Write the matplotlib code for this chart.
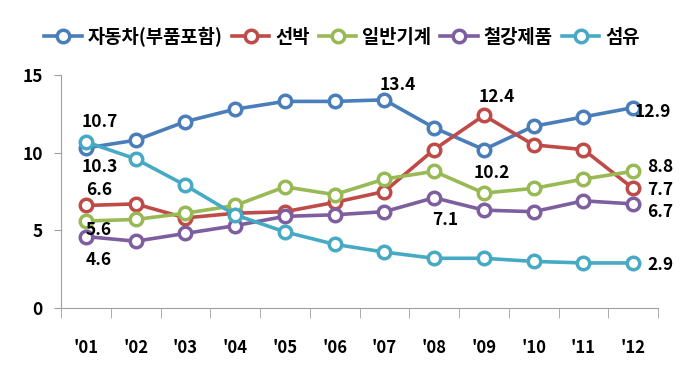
import matplotlib
matplotlib.use("Agg")
import matplotlib.pyplot as plt
import numpy as np

plt.rcParams['font.family'] = ['Noto Sans CJK KR', 'DejaVu Sans']
plt.rcParams['font.weight'] = 'bold'

# data
years = ["'01", "'02", "'03", "'04", "'05", "'06", "'07", "'08", "'09", "'10", "'11", "'12"]
names = ['자동차(부품포함)', '선박', '일반기계', '철강제품', '섬유']
car = [10.3, 10.8, 12.0, 12.8, 13.3, 13.3, 13.4, 11.6, 10.2, 11.7, 12.3, 12.9]
ship = [6.6, 6.7, 5.8, 6.1, 6.2, 6.8, 7.5, 10.2, 12.4, 10.5, 10.2, 7.7]
machine = [5.6, 5.7, 6.1, 6.6, 7.8, 7.3, 8.3, 8.8, 7.4, 7.7, 8.3, 8.8]
steel = [4.6, 4.3, 4.8, 5.3, 5.9, 6.0, 6.2, 7.1, 6.3, 6.2, 6.9, 6.7]
textile = [10.7, 9.6, 7.9, 6.0, 4.9, 4.1, 3.6, 3.2, 3.2, 3.0, 2.9, 2.9]
colors = ['#4A7EBB', '#BE4B48', '#98B954', '#7D5FA0', '#46AAC5']

# (series index, year index, x offset px, y offset px)
labels = [(4, 0, 14, 20), (0, 0, 14, -19), (1, 0, 13, 15), (2, 0, 13, -9), (3, 0, 13, -23),
          (0, 6, 13, 15), (1, 8, 13, 18), (0, 8, 8, -23), (3, 7, 11, -22),
          (0, 11, 20, -4), (2, 11, 27, 4), (1, 11, 27, -2), (3, 11, 27, -8), (4, 11, 27, -2)]

series = [car, ship, machine, steel, textile]
x = np.arange(len(years))

fig = plt.figure(figsize=(6.96, 3.81), dpi=100)
ax = fig.add_axes([61/696, 1-308/381, 597/696, 233/381])

for vals, name, c in zip(series, names, colors):
    ax.plot(x, vals, color=c, lw=2.6, marker='o', ms=9, mfc='white', mec=c, mew=2.5, label=name)

for s, i, dx, dy in labels:
    ax.annotate(f'{series[s][i]:.1f}', (x[i], series[s][i]), xytext=(dx, dy), textcoords='offset pixels',
                ha='center', va='center', fontsize=12.5, fontweight='bold', color='black')

ax.set_xlim(-0.5, len(years) - 0.5)
ax.set_ylim(0, 15)
ax.set_yticks([0, 5, 10, 15])
ax.set_xticks(x)
ax.set_xticklabels(years)
ax.set_xticks(np.arange(-0.5, len(years), 1), minor=True)
ax.tick_params(axis='x', which='major', length=0, pad=22, labelsize=12)
ax.tick_params(axis='x', which='minor', length=7, color='#A0A0A0', direction='out')
ax.tick_params(axis='y', length=5, color='#A0A0A0', labelsize=12.5, pad=8)
for t in ax.get_xticklabels() + ax.get_yticklabels():
    t.set_fontweight('bold')
for sp in ['top', 'right']:
    ax.spines[sp].set_visible(False)
ax.spines['left'].set_color('#A0A0A0')
ax.spines['bottom'].set_color('#A0A0A0')

fig.legend(loc='center', bbox_to_anchor=(342/696, 1-37/381), ncol=5, frameon=False,
           handlelength=2.0, handletextpad=0.3, columnspacing=0.5,
           prop={'size': 13.5, 'weight': 'bold'})

fig.savefig('out.png', dpi=100)
